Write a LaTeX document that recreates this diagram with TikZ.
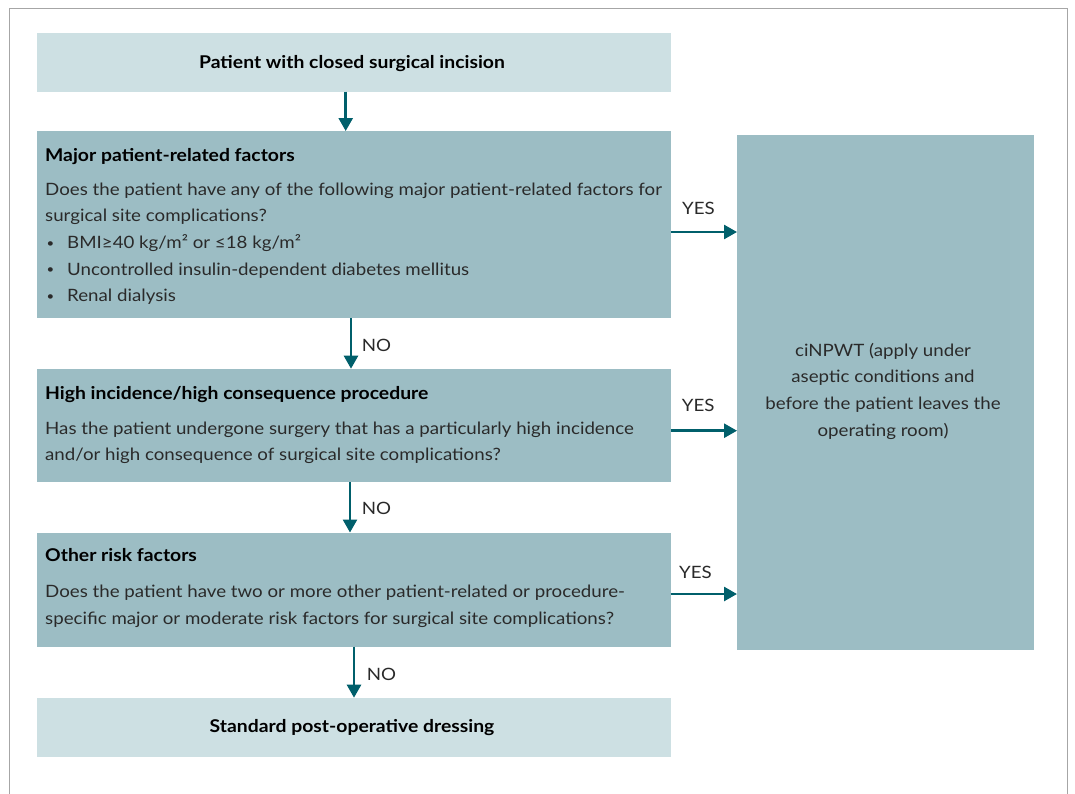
\documentclass[tikz,border=0pt]{standalone}
\usepackage{fontspec}
\setmainfont{Lato}[FakeStretch=1.1]
\usetikzlibrary{arrows.meta}
\definecolor{lightbox}{HTML}{CDE0E3}
\definecolor{darkbox}{HTML}{9CBDC4}
\definecolor{arrowc}{HTML}{005F6B}
\definecolor{txt}{HTML}{2A2A2A}
\definecolor{framec}{HTML}{A6A6A6}
\newcommand{\bodyfont}{\fontsize{17}{26.6}\selectfont}
\newcommand{\titlefont}{\bfseries\fontsize{17.6}{20}\selectfont}
\newcommand{\bul}{\makebox[22pt][l]{\hspace{1.5pt}\raisebox{1.2pt}{\fontsize{12}{12}\selectfont\textbullet}}}
\begin{document}
\begin{tikzpicture}[x=1pt,y=-1pt,
  lbox/.style={fill=lightbox,inner sep=0,outer sep=0,anchor=north west},
  dbox/.style={fill=darkbox,inner sep=0,outer sep=0,anchor=north west},
  ttl/.style={anchor=base west,inner sep=0,font=\titlefont,text=black},
  bod/.style={anchor=base west,inner sep=0,align=left,font=\bodyfont,text=txt},
  lbl/.style={anchor=base west,inner sep=0,font=\bodyfont,text=txt},
  arr/.style={draw=arrowc,line width=2.6pt,-{Triangle[length=13pt,width=14pt]}}]
\useasboundingbox (0,0) rectangle (1075,793);
\fill[white] (0,0) rectangle (1075,793);
% frame
\draw[framec,line width=1.4pt] (9.5,800) -- (9.5,8.5) -- (1067.3,8.5) -- (1067.3,800);
% boxes
\node[lbox,minimum width=634pt,minimum height=58.4pt] (b1) at (36.5,33.3) {};
\node[dbox,minimum width=634pt,minimum height=187pt] (b2) at (36.5,131) {};
\node[dbox,minimum width=634pt,minimum height=113.5pt] (b3) at (36.5,368.7) {};
\node[dbox,minimum width=634pt,minimum height=114pt] (b4) at (36.5,532.5) {};
\node[lbox,minimum width=634pt,minimum height=59pt] (b5) at (36.5,697.7) {};
\node[dbox,minimum width=297pt,minimum height=515pt] (r) at (737,135) {};
% texts
\node[anchor=base,inner sep=0,font=\titlefont] (t1) at (352,68.3) {Patient with closed surgical incision};
\node[ttl] (t2) at (45,161.7) {Major patient-related factors};
\node[bod] (d2) at (45,301.7) {Does the patient have any of the following major patient-related factors for\\
surgical site complications?\\
\bul BMI≥40 kg/m² or ≤18 kg/m²\\
\bul Uncontrolled insulin-dependent diabetes mellitus\\
\bul Renal dialysis};
\node[ttl] (t3) at (45,399) {High incidence/high consequence procedure};
\node[bod] (d3) at (45,460.7) {Has the patient undergone surgery that has a particularly high incidence\\
and/or high consequence of surgical site complications?};
\node[ttl] (t4) at (45,561.7) {Other risk factors};
\node[bod] (d4) at (45,624) {Does the patient have two or more other patient-related or procedure-\\
specific major or moderate risk factors for surgical site complications?};
\node[anchor=base,inner sep=0,font=\titlefont] (t5) at (352,732.7) {Standard post-operative dressing};
\node[anchor=base,inner sep=0,align=center,font=\bodyfont,text=txt] (tr) at (883,436) {ciNPWT (apply under\\
aseptic conditions and\\
before the patient leaves the\\
operating room)};
% arrows
\draw[arr] (b1.south -| 345.7,0) -- (b2.north -| 345.7,0);
\draw[arr] (b2.south -| 351,0) -- (b3.north -| 351,0);
\draw[arr] (b3.south -| 350,0) -- (b4.north -| 350,0);
\draw[arr] (b4.south -| 354,0) -- (b5.north -| 354,0);
\draw[arr] (b2.east |- 0,232) -- (r.west |- 0,232);
\draw[arr] (b3.east |- 0,430.7) -- (r.west |- 0,430.7);
\draw[arr] (b4.east |- 0,594) -- (r.west |- 0,594);
% labels
\node[lbl] (n1) at (361.7,351.7) {NO};
\node[lbl] (n2) at (361.7,514) {NO};
\node[lbl] (n3) at (366.7,680) {NO};
\node[lbl] (y1) at (682,214) {YES};
\node[lbl] (y2) at (681.7,411.7) {YES};
\node[lbl] (y3) at (679,578) {YES};
\end{tikzpicture}
\end{document}
